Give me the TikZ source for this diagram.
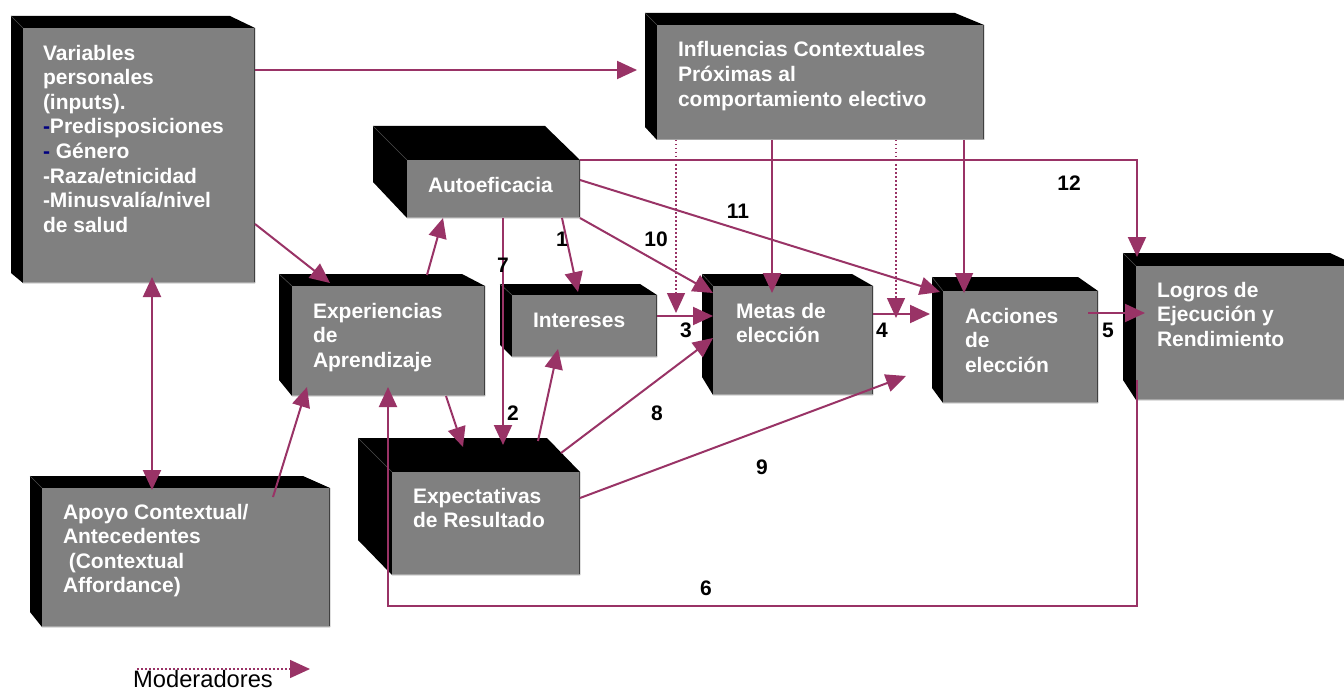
\documentclass[tikz,border=0pt]{standalone}
\usepackage{fontspec}
\setmainfont{Liberation Sans}
\usetikzlibrary{arrows.meta}
\definecolor{plum}{HTML}{993366}
\definecolor{facegray}{HTML}{808080}
\definecolor{navy}{HTML}{000080}
\newcommand\firstrow{\rule{0pt}{18pt}}
\newcommand\cube[9]{%
  \fill[black] (#2,#3) -- (#4,#3) -- (#8,#7) -- (#8,#9) -- (#6,#9) -- (#2,#5) -- cycle;
  \draw[draw=black!70, line width=0.6pt] (#2,#3) -- (#6,#7);
  \node[face, anchor=north west, minimum width={(#8-#6)*1pt}, minimum height={(#9-#7)*1pt}] (#1) at (#6,#7) {};
  \draw[draw=black!75, line width=1.5pt] (#8-0.75,#7) -- (#8-0.75,#9);
  \draw[draw=black!35, line width=1.2pt] (#6,#9-0.6) -- (#8,#9-0.6);
}
\tikzset{
  face/.style={fill=facegray, draw=none, inner sep=0pt, outer sep=0pt, rectangle},
  boxtext/.style={anchor=north west, inner sep=0pt, outer sep=0pt, align=left, text=white,
    font=\fontsize{21}{24.6}\selectfont\bfseries},
  num/.style={inner sep=0pt, font=\fontsize{21}{24}\selectfont\bfseries, text=black},
  conn/.style={draw=plum, line width=2pt, -{Triangle[length=20pt,width=18pt]}},
  conntwo/.style={draw=plum, line width=2pt, {Triangle[length=20pt,width=18pt]}-{Triangle[length=20pt,width=18pt]}},
  modline/.style={draw=plum, line width=1.5pt, dash pattern=on 1.5pt off 2.5pt, -{Triangle[length=20pt,width=18pt]}}
}
\begin{document}
\begin{tikzpicture}[x=1pt,y=-1pt]
\useasboundingbox (0,0) rectangle (1344,690);
\clip (0,0) rectangle (1344,690);
\fill[white] (0,0) rectangle (1344,690);

% boxes
\cube{var}{11}{16}{230}{273}{23}{28}{255}{283}
\cube{inf}{645}{13}{955}{127}{657}{25}{984}{140}
\cube{aut}{373}{126}{545}{182}{407}{160}{580}{218}
\cube{exp}{279}{274}{462}{380}{292}{286}{485}{396}
\cube{int}{500}{284}{640}{345}{512}{295}{657}{357}
\cube{met}{702}{274}{852}{377}{713}{286}{873}{395}
\cube{acc}{932}{277}{1078}{388}{943}{291}{1098}{403}
\cube{log}{1123}{253}{1330}{380}{1136}{266}{1358}{400}
\cube{rex}{358}{438}{547}{540}{392}{472}{580}{575}
\cube{apo}{30}{476}{303}{612}{42}{488}{330}{627}

% texts
\node[boxtext] (tvar) at (43,42) {\firstrow Variables\\personales\\(inputs).\\\textcolor{navy}{-}Predisposiciones\\\textcolor{navy}{-} Género\\-Raza/etnicidad\\-Minusvalía/nivel\\de salud};
\node[boxtext] (tinf) at (678,39) {\firstrow Influencias Contextuales\\Próximas al\\comportamiento electivo};
\node[boxtext] (taut) at (428,174) {\firstrow Autoeficacia};
\node[boxtext] (texp) at (313,300) {\firstrow Experiencias\\de\\Aprendizaje};
\node[boxtext] (tint) at (533,309) {\firstrow Intereses};
\node[boxtext] (tmet) at (736,300) {\firstrow Metas de\\elección};
\node[boxtext] (tacc) at (965,305) {\firstrow Acciones\\de\\elección};
\node[boxtext] (tlog) at (1157,279) {\firstrow Logros de\\Ejecución y\\Rendimiento};
\node[boxtext] (trex) at (413,485) {\firstrow Expectativas\\de Resultado};
\node[boxtext] (tapo) at (63,501) {\firstrow Apoyo Contextual/\\Antecedentes\\\hspace*{5.8pt}(Contextual\\Affordance)};

% connectors
\draw[conn] (255,70) -- (637,70);
\draw[conn] (255,224) -- (330,283);
\draw[conntwo] (152,277) -- (152,490);
\draw[conn] (273,497) -- (307,387);
\draw[conn] (427,275) -- (443,218);
\draw[conn] (1137,380) -- (1137,606) -- (388,606) -- (388,387);
\draw[conn] (446,396) -- (463,447);
\draw[conn] (503,218) -- (503,445);
\draw[conn] (562,218) -- (578,292);
\draw[conn] (538,441) -- (558,349);
\draw[conn] (657,316) -- (713,316);
\draw[modline] (676,140) -- (676,313);
\draw[modline] (896,140) -- (896,318);
\draw[conn] (873,314) -- (930,314);
\draw[conn] (772,140) -- (772,293);
\draw[conn] (964,140) -- (964,293);
\draw[conn] (1088,313) -- (1145,313);
\draw[conn] (561,453) -- (713,338);
\draw[conn] (580,498) -- (906,376);
\draw[conn] (580,160) -- (1137,160) -- (1137,257);
\draw[conn] (580,180) -- (940,292);
\draw[conn] (580,218) -- (713,293);

% numbers
\node[num] (n1) at (562,239) {1};
\node[num] (n2) at (513,413) {2};
\node[num] (n3) at (686,330) {3};
\node[num] (n4) at (882,330) {4};
\node[num] (n5) at (1108,330) {5};
\node[num] (n6) at (706,588) {6};
\node[num] (n7) at (503,265) {7};
\node[num] (n8) at (657,413) {8};
\node[num] (n9) at (762,467) {9};
\node[num] (n10) at (656,239) {10};
\node[num] (n11) at (738,211) {11};
\node[num] (n12) at (1069,183) {12};

% legend
\coordinate (lgA) at (137,669);
\coordinate (lgB) at (310,669);
\draw[modline] (lgA) -- (lgB);
\node[anchor=base west, inner sep=0pt, font=\fontsize{23.7}{28}\selectfont] (lgT) at (133,687) {Moderadores};
\end{tikzpicture}
\end{document}
